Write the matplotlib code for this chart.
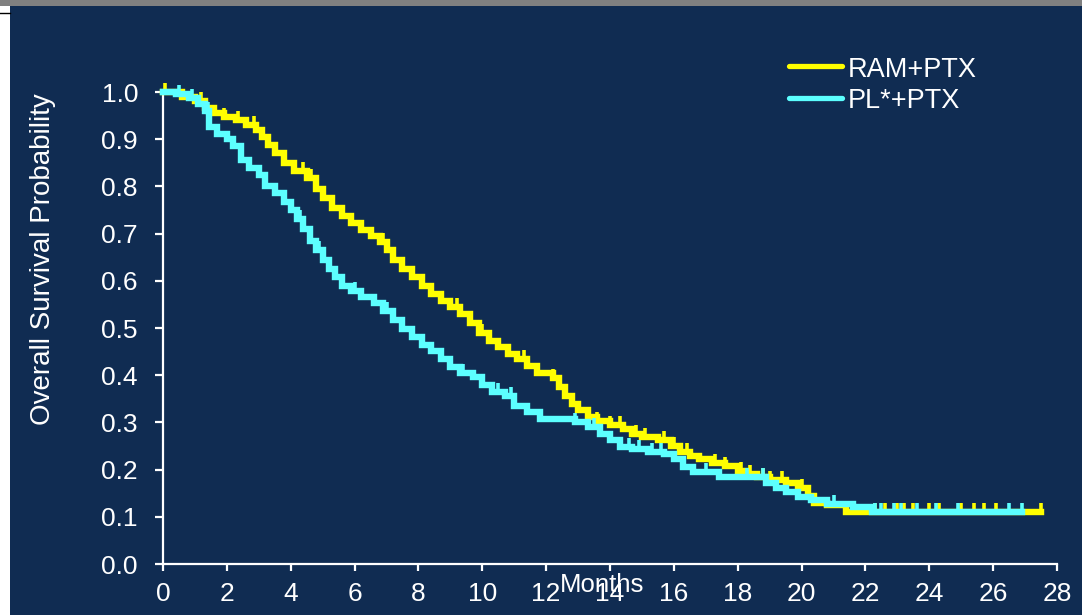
import numpy as np
import matplotlib
matplotlib.use("Agg")
import matplotlib.pyplot as plt
from matplotlib.patches import Rectangle
from matplotlib.lines import Line2D
from matplotlib.path import Path

plt.rcParams['font.family'] = ['Liberation Sans', 'DejaVu Sans']

# ---- data ----
series_names = ["RAM+PTX", "PL*+PTX"]

ram_t = [0, 0.6, 1.0, 1.3, 1.6, 1.9, 2.3, 2.6, 2.9, 3.1, 3.3, 3.5, 3.8, 4.1, 4.5, 4.8, 5.0, 5.3, 5.6,
         5.9, 6.2, 6.5, 6.8, 7.0, 7.2, 7.5, 7.8, 8.1, 8.4, 8.7, 9.0, 9.3, 9.6, 9.9, 10.2, 10.5, 10.8,
         11.1, 11.4, 11.7, 12.2, 12.4, 12.6, 12.8, 13.0, 13.3, 13.6, 14.0, 14.4, 14.7, 15.0, 15.5,
         15.9, 16.2, 16.5, 16.8, 17.2, 17.6, 18.0, 18.3, 18.6, 19.0, 19.5, 19.9, 20.2, 20.4, 20.8,
         21.4, 27.5]
ram_s = [1.0, 0.99, 0.98, 0.966, 0.955, 0.947, 0.94, 0.93, 0.92, 0.905, 0.888, 0.87, 0.85, 0.833,
         0.818, 0.795, 0.775, 0.755, 0.738, 0.722, 0.708, 0.695, 0.682, 0.665, 0.645, 0.625, 0.607,
         0.59, 0.572, 0.558, 0.545, 0.53, 0.51, 0.49, 0.472, 0.46, 0.445, 0.435, 0.42, 0.405, 0.395,
         0.375, 0.355, 0.34, 0.327, 0.312, 0.302, 0.295, 0.285, 0.275, 0.27, 0.262, 0.25, 0.238,
         0.228, 0.222, 0.215, 0.207, 0.198, 0.19, 0.184, 0.178, 0.172, 0.16, 0.145, 0.13, 0.125,
         0.11, 0.11]
ram_cens = [0.05, 1.2, 1.9, 2.35, 2.85, 4.4, 4.65, 5.0, 6.9, 8.4, 9.2, 10.0, 11.3, 11.7, 12.2,
            13.6, 14.0, 14.3, 14.8, 15.1, 15.7, 16.0, 16.4, 17.3, 17.6, 18.1, 18.4, 18.8, 19.0,
            19.4, 20.0, 22.3, 22.6, 23.0, 23.2, 23.5, 24.0, 24.3, 25.0, 25.4, 25.7, 26.1, 27.5]

pl_t = [0, 0.4, 0.8, 1.1, 1.3, 1.45, 1.7, 2.0, 2.2, 2.45, 2.7, 3.0, 3.2, 3.5, 3.8, 4.0, 4.2, 4.4,
        4.6, 4.8, 5.0, 5.2, 5.4, 5.6, 5.9, 6.2, 6.6, 6.9, 7.2, 7.5, 7.8, 8.1, 8.4, 8.7, 9.0, 9.3,
        9.7, 10.0, 10.3, 10.7, 11.0, 11.4, 11.8, 12.9, 13.3, 13.7, 14.0, 14.3, 14.7, 15.2, 15.7,
        16.0, 16.3, 16.6, 17.4, 18.9, 19.2, 19.5, 19.9, 20.3, 20.8, 21.6, 22.2, 26.9]
pl_s = [1.0, 0.995, 0.987, 0.975, 0.96, 0.925, 0.912, 0.9, 0.885, 0.855, 0.84, 0.825, 0.8, 0.785,
        0.768, 0.75, 0.73, 0.71, 0.685, 0.665, 0.645, 0.625, 0.608, 0.59, 0.578, 0.566, 0.553,
        0.535, 0.517, 0.498, 0.481, 0.465, 0.452, 0.435, 0.418, 0.405, 0.396, 0.38, 0.365, 0.355,
        0.335, 0.322, 0.308, 0.3, 0.29, 0.275, 0.262, 0.248, 0.243, 0.238, 0.232, 0.222, 0.205,
        0.195, 0.184, 0.172, 0.162, 0.153, 0.142, 0.136, 0.128, 0.121, 0.11, 0.11]
pl_cens = [0.5, 0.9, 1.4, 4.3, 4.9, 6.0, 7.0, 9.4, 10.5, 10.9, 11.4, 11.8, 12.9, 13.5, 14.0, 14.3,
           14.6, 14.9, 15.3, 15.6, 16.3, 17.0, 18.3, 18.8, 21.0, 22.3, 22.5, 22.9, 23.1, 23.6,
           24.2, 24.9, 26.5, 26.9]

x_ticks = list(range(0, 29, 2))
y_ticks = [0.0, 0.1, 0.2, 0.3, 0.4, 0.5, 0.6, 0.7, 0.8, 0.9, 1.0]

# ---- style ----
W, H = 1082, 615
NAVY = '#102C52'
YELLOW = '#FFFF00'
CYAN = '#5CFFFF'

fig = plt.figure(figsize=(W / 100, H / 100), dpi=100, facecolor='white')
fig.patches.append(Rectangle((0, 1 - 6 / H), 1, 6 / H, transform=fig.transFigure,
                             facecolor='#808080', edgecolor='none', zorder=-5))
fig.patches.append(Rectangle((10 / W, 0), 1 - 10 / W, 1 - 6 / H, transform=fig.transFigure,
                             facecolor=NAVY, edgecolor='none', zorder=-5))
fig.lines.append(Line2D([0, 10 / W], [1 - 12.5 / H, 1 - 12.5 / H], transform=fig.transFigure,
                        color='black', lw=1, zorder=-4))

ax = fig.add_axes([163 / W, 51 / H, (1057 - 163) / W, (564 - 92) / H])
ax.set_zorder(5)
ax.set_facecolor('none')
ax.set_xlim(0, 28)
ax.set_ylim(0, 1.0)

cens_marker = Path([(0, 0), (0, 1)], [Path.MOVETO, Path.LINETO])

for t, s, cens, col in [(ram_t, ram_s, ram_cens, YELLOW), (pl_t, pl_s, pl_cens, CYAN)]:
    t = np.asarray(t); s = np.asarray(s)
    ax.step(t, s, where='post', color=col, lw=4.6, clip_on=False, zorder=3,
            solid_joinstyle='miter')
    idx = np.searchsorted(t, np.asarray(cens), side='right') - 1
    ax.plot(cens, s[idx], linestyle='none', marker=cens_marker, markersize=13,
            markeredgecolor=col, markeredgewidth=2.6, clip_on=False, zorder=3)

for sp in ['top', 'right']:
    ax.spines[sp].set_visible(False)
for sp in ['left', 'bottom']:
    ax.spines[sp].set_color('white')
    ax.spines[sp].set_linewidth(1.6)

ax.set_xticks(x_ticks)
ax.set_xticklabels([str(v) for v in x_ticks])
ax.set_yticks(y_ticks)
ax.set_yticklabels([f"{v:.1f}" for v in y_ticks])
ax.tick_params(axis='y', direction='out', length=6, width=1.6, color='white',
               labelcolor='white', labelsize=19, pad=12)
ax.tick_params(axis='x', direction='out', length=5, width=1.6, color='white',
               labelcolor='white', labelsize=19, pad=8)

fig.text(602 / W, 1 - 592 / H, "Months", color='white', fontsize=18.5,
         ha='center', va='baseline', zorder=6)
fig.text(43 / W, 1 - 259 / H, "Overall Survival Probability", color='white', fontsize=20,
         rotation=90, ha='center', va='center')

# legend
for name, col, yl, yb in [(series_names[0], YELLOW, 66, 77), (series_names[1], CYAN, 98, 108)]:
    fig.lines.append(Line2D([789 / W, 842 / W], [1 - yl / H, 1 - yl / H], transform=fig.transFigure,
                            color=col, lw=3.8, solid_capstyle='round'))
    fig.text(848 / W, 1 - yb / H, name, color='white', fontsize=19.5, ha='left', va='baseline')

fig.savefig('out.png', dpi=100, facecolor=fig.get_facecolor())
